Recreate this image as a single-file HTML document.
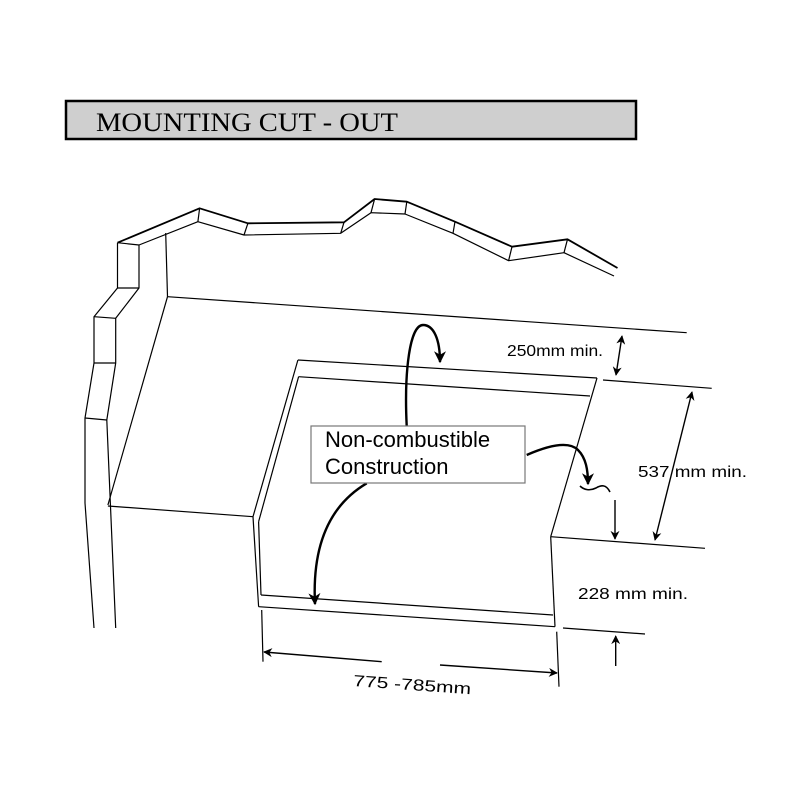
<!DOCTYPE html>
<html><head><meta charset="utf-8"><style>
html,body{margin:0;padding:0;background:#fff;}
svg{display:block;}
</style></head><body>
<svg width="800" height="800" viewBox="0 0 800 800" xmlns="http://www.w3.org/2000/svg">
<defs>
<marker id="ah" viewBox="0 0 10 10" refX="9" refY="5" markerWidth="13" markerHeight="9" orient="auto-start-reverse" markerUnits="userSpaceOnUse">
<path d="M0,0 L10,5 L0,10 L3,5 Z" fill="#000"/>
</marker>
<marker id="ahb" viewBox="0 0 10 10" refX="9" refY="5" markerWidth="18" markerHeight="12" orient="auto-start-reverse" markerUnits="userSpaceOnUse">
<path d="M0,0 L10,5 L0,10 L3,5 Z" fill="#000"/>
</marker>
</defs>
<rect x="66" y="101" width="570" height="38" fill="#cfcfcf" stroke="#000" stroke-width="2.5"/>
<text x="96" y="131" font-family="Liberation Serif, serif" font-size="26" textLength="302" lengthAdjust="spacingAndGlyphs">MOUNTING CUT - OUT</text>

<g fill="none" stroke="#000" stroke-width="1.2" stroke-linejoin="round">
<polyline stroke-width="1.8" points="117.5,242.7 199.6,208.3 247.9,223.3 344,222.3 374.6,199 406.8,201.7 455,221.7 512,246.7 567.5,239.3 617.5,268"/>
<polyline points="139,245 197.9,221.7 244,235 340.7,233.3 371,212.7 405,214 453,233.3 508.6,260.7 564,252.7 614,276"/>
<line x1="117.5" y1="242.7" x2="139" y2="245"/>
<line x1="199.6" y1="208.3" x2="197.9" y2="221.7"/>
<line x1="247.9" y1="223.3" x2="244" y2="235"/>
<line x1="344" y1="222.3" x2="340.7" y2="233.3"/>
<line x1="374.6" y1="199" x2="371" y2="212.7"/>
<line x1="406.8" y1="201.7" x2="405" y2="214"/>
<line x1="455" y1="221.7" x2="453" y2="233.3"/>
<line x1="512" y1="246.7" x2="508.6" y2="260.7"/>
<line x1="567.5" y1="239.3" x2="564" y2="252.7"/>
<polyline points="117.5,242.7 117.5,288 94,316.7 94,363 85,418 85,503 94,628"/>
<polyline points="139,245 139,288 115.7,318.3 115.7,363 106.8,420 115.7,628"/>
<line x1="117.5" y1="288" x2="139" y2="288"/>
<line x1="94" y1="316.7" x2="115.7" y2="318.3"/>
<line x1="94" y1="363" x2="115.7" y2="363"/>
<line x1="85" y1="418" x2="106.8" y2="420"/>
<line x1="165.7" y1="233" x2="167.5" y2="296.7"/>
<line x1="167.5" y1="296.7" x2="686.7" y2="332.7"/>
<line x1="167.5" y1="296.7" x2="107.9" y2="505"/>
<line x1="107.9" y1="506" x2="253" y2="516.7"/>
<line x1="297.9" y1="360" x2="597" y2="378"/>
<line x1="298.6" y1="376.7" x2="590" y2="396"/>
<line x1="297.9" y1="360" x2="253" y2="516.7"/>
<line x1="298.6" y1="376.7" x2="258.6" y2="521.7"/>
<line x1="253" y1="516.7" x2="258.6" y2="606.7"/>
<line x1="258.6" y1="521.7" x2="261" y2="595"/>
<line x1="261" y1="595" x2="553" y2="615"/>
<line x1="258.6" y1="606.7" x2="555" y2="626.7"/>
<line x1="597" y1="378" x2="550.7" y2="536.7"/>
<line x1="550.7" y1="536.7" x2="555" y2="626.7"/>
<line x1="550.7" y1="536.7" x2="705" y2="548.3"/>
<line x1="603" y1="380" x2="711.7" y2="388.3"/>
<line x1="563" y1="628" x2="645" y2="634"/>
<line x1="261.7" y1="610" x2="263" y2="661.7"/>
<line x1="556.7" y1="631.7" x2="559" y2="686.7"/>
</g>

<g fill="none" stroke="#000" stroke-width="1.4">
<line x1="622" y1="336" x2="616" y2="375" marker-start="url(#ah)" marker-end="url(#ah)"/>
<line x1="692" y1="392" x2="655" y2="540" marker-start="url(#ah)" marker-end="url(#ah)"/>
<line x1="615" y1="500" x2="615" y2="539" marker-end="url(#ah)"/>
<line x1="615.7" y1="666" x2="615.7" y2="636" marker-end="url(#ah)"/>
<line x1="381.7" y1="661.7" x2="264" y2="652" marker-end="url(#ah)"/>
<line x1="440" y1="665" x2="557" y2="673" marker-end="url(#ah)"/>
</g>

<g fill="none" stroke="#000" stroke-width="2.4">
<path d="M406.7,426 C404,370 410,325 423,325 C434,325 440,340 440,362" marker-end="url(#ahb)"/>
<path d="M366.7,483.3 C330,505 312,545 315,604" marker-end="url(#ahb)"/>
<path d="M526.7,455 C545,447 568,440 578,450 C586,458 588,470 588,484" marker-end="url(#ahb)"/>
<path d="M580,486 C584,490 590,491 596,488 C601,485 606,484 610,492" stroke-width="1.6"/>
</g>

<rect x="311" y="426" width="214" height="57" fill="#fff" stroke="#777" stroke-width="1.2"/>
<g font-family="Liberation Sans, sans-serif" fill="#000">
<text x="325" y="447" font-size="22">Non-combustible</text>
<text x="325" y="474" font-size="22">Construction</text>
<text x="507" y="356" font-size="16" textLength="96" lengthAdjust="spacingAndGlyphs">250mm min.</text>
<text x="638" y="477" font-size="16" textLength="109" lengthAdjust="spacingAndGlyphs">537 mm min.</text>
<text x="578" y="599" font-size="16" textLength="110" lengthAdjust="spacingAndGlyphs">228 mm min.</text>
<text x="353" y="686" font-size="16" textLength="118" lengthAdjust="spacingAndGlyphs" transform="rotate(4 353 686)">775 -785mm</text>
</g>
</svg>
</body></html>
